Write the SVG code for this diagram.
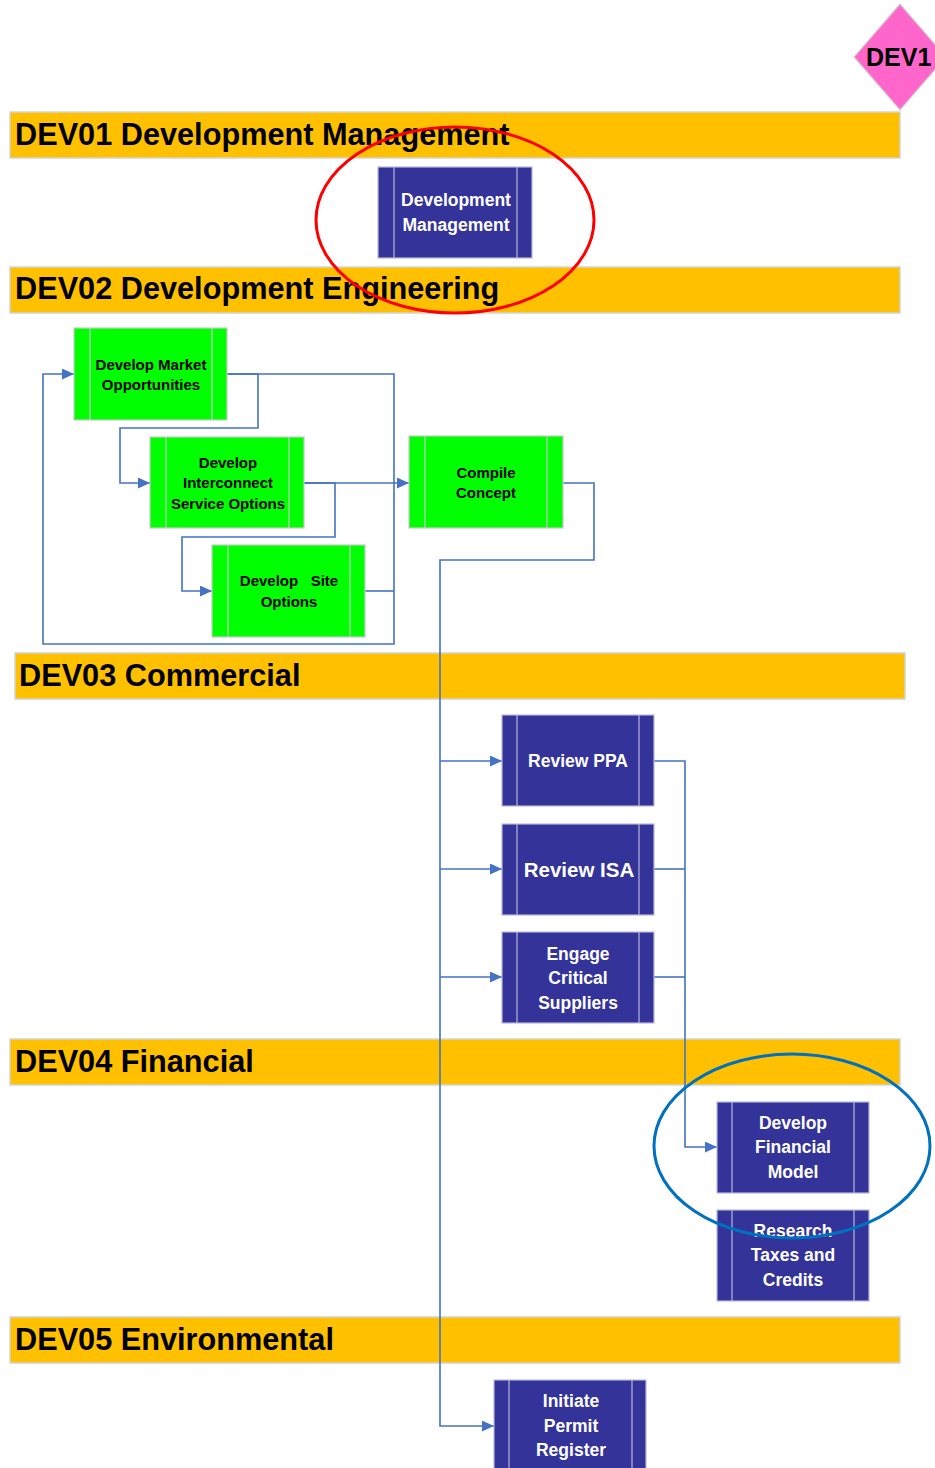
<svg xmlns="http://www.w3.org/2000/svg" width="935" height="1468" viewBox="0 0 935 1468">
<defs>
<style>
.lane{fill:#ffc000;stroke:#d4d4d4;stroke-width:1.5}
.lt{font-family:"Liberation Sans",Arial,sans-serif;font-weight:bold;font-size:30.7px;fill:#000}
.bn{fill:#333399;stroke:#b8b8d8;stroke-width:1.2}
.gn{fill:#00ff00;stroke:#c8c8c8;stroke-width:1.2}
.bl{stroke:#b8b8d8;stroke-width:1.2}
.gl{stroke:#c8c8c8;stroke-width:1.2}
.wt{font-family:"Liberation Sans",Arial,sans-serif;font-weight:bold;font-size:17.5px;fill:#fff;text-anchor:middle}
.bt{font-family:"Liberation Sans",Arial,sans-serif;font-weight:bold;font-size:15px;fill:#000;text-anchor:middle}
.c{fill:none;stroke:#4472c4;stroke-width:1.6}
</style>
<marker id="ah2" viewBox="0 0 10 10" refX="10" refY="5" markerWidth="12" markerHeight="11" markerUnits="userSpaceOnUse" orient="auto" preserveAspectRatio="none">
<path d="M0,0 L10,5 L0,10 z" fill="#4472c4"/>
</marker>
</defs>
<rect width="935" height="1468" fill="#fff"/>

<g id="badge">
<polygon points="900,4 946,57 900,110 854,57" fill="#ff66cc" stroke="#d0d0d0" stroke-width="1.2"/>
<text x="866" y="66" font-family="Liberation Sans,Arial,sans-serif" font-weight="bold" font-size="25" fill="#000">DEV1</text>
</g>

<g id="lanes">
<g id="lane-dev01"><rect class="lane" x="10" y="112" width="890" height="46"/><text class="lt" x="15" y="145">DEV01 Development Management</text></g>
<g id="lane-dev02"><rect class="lane" x="10" y="267" width="890" height="46"/><text class="lt" x="15" y="299">DEV02 Development Engineering</text></g>
<g id="lane-dev03"><rect class="lane" x="15" y="653" width="890" height="46"/><text class="lt" x="19" y="686">DEV03 Commercial</text></g>
<g id="lane-dev04"><rect class="lane" x="10" y="1039" width="890" height="46"/><text class="lt" x="15" y="1072">DEV04 Financial</text></g>
<g id="lane-dev05"><rect class="lane" x="10" y="1317" width="890" height="46"/><text class="lt" x="15" y="1350">DEV05 Environmental</text></g>
</g>

<g id="connectors">
<polyline class="c" points="227,374 258,374 258,428 120,428 120,483 150,483" marker-end="url(#ah2)"/>
<polyline class="c" points="227,374 394,374 394,644 43,644 43,374 74,374" marker-end="url(#ah2)"/>
<polyline class="c" points="365,591 394,591"/>
<polyline class="c" points="304,483 409,483" marker-end="url(#ah2)"/>
<polyline class="c" points="304,483 335,483 335,537 182,537 182,591 212,591" marker-end="url(#ah2)"/>
<polyline class="c" points="563,483 594,483 594,560 440,560 440,1426 494,1426" marker-end="url(#ah2)"/>
<polyline class="c" points="440,761 502,761" marker-end="url(#ah2)"/>
<polyline class="c" points="440,869 502,869" marker-end="url(#ah2)"/>
<polyline class="c" points="440,977 502,977" marker-end="url(#ah2)"/>
<polyline class="c" points="654,761 685,761 685,1147 717,1147" marker-end="url(#ah2)"/>
<polyline class="c" points="654,869 685,869"/>
<polyline class="c" points="654,977 685,977"/>
</g>

<g id="n-devmgmt">
<rect class="bn" x="378" y="167" width="154" height="91"/>
<line class="bl" x1="394" y1="167" x2="394" y2="258"/><line class="bl" x1="517" y1="167" x2="517" y2="258"/>
<text class="wt" x="456" y="206">Development</text><text class="wt" x="456" y="231">Management</text>
</g>

<g id="n-market">
<rect class="gn" x="74" y="328" width="153" height="92"/>
<line class="gl" x1="90" y1="328" x2="90" y2="420"/><line class="gl" x1="212" y1="328" x2="212" y2="420"/>
<text class="bt" x="151" y="370">Develop Market</text><text class="bt" x="151" y="390">Opportunities</text>
</g>

<g id="n-interconnect">
<rect class="gn" x="150" y="437" width="154" height="91"/>
<line class="gl" x1="166" y1="437" x2="166" y2="528"/><line class="gl" x1="289" y1="437" x2="289" y2="528"/>
<text class="bt" x="228" y="468">Develop</text><text class="bt" x="228" y="488">Interconnect</text><text class="bt" x="228" y="509">Service Options</text>
</g>

<g id="n-site">
<rect class="gn" x="212" y="545" width="153" height="92"/>
<line class="gl" x1="228" y1="545" x2="228" y2="637"/><line class="gl" x1="350" y1="545" x2="350" y2="637"/>
<text class="bt" x="289" y="586" xml:space="preserve">Develop   Site</text><text class="bt" x="289" y="607">Options</text>
</g>

<g id="n-compile">
<rect class="gn" x="409" y="436" width="154" height="92"/>
<line class="gl" x1="425" y1="436" x2="425" y2="528"/><line class="gl" x1="547" y1="436" x2="547" y2="528"/>
<text class="bt" x="486" y="478">Compile</text><text class="bt" x="486" y="498">Concept</text>
</g>

<g id="n-ppa">
<rect class="bn" x="502" y="715" width="152" height="91"/>
<line class="bl" x1="517" y1="715" x2="517" y2="806"/><line class="bl" x1="639" y1="715" x2="639" y2="806"/>
<text class="wt" x="578" y="767">Review PPA</text>
</g>

<g id="n-isa">
<rect class="bn" x="502" y="824" width="152" height="91"/>
<line class="bl" x1="517" y1="824" x2="517" y2="915"/><line class="bl" x1="639" y1="824" x2="639" y2="915"/>
<text class="wt" x="579" y="877" style="font-size:20.5px">Review ISA</text>
</g>

<g id="n-engage">
<rect class="bn" x="502" y="932" width="152" height="91"/>
<line class="bl" x1="517" y1="932" x2="517" y2="1023"/><line class="bl" x1="639" y1="932" x2="639" y2="1023"/>
<text class="wt" x="578" y="960">Engage</text><text class="wt" x="578" y="984">Critical</text><text class="wt" x="578" y="1009">Suppliers</text>
</g>

<g id="n-finmodel">
<rect class="bn" x="717" y="1102" width="152" height="91"/>
<line class="bl" x1="732" y1="1102" x2="732" y2="1193"/><line class="bl" x1="854" y1="1102" x2="854" y2="1193"/>
<text class="wt" x="793" y="1129">Develop</text><text class="wt" x="793" y="1153">Financial</text><text class="wt" x="793" y="1178">Model</text>
</g>

<g id="n-taxes">
<rect class="bn" x="717" y="1210" width="152" height="91"/>
<line class="bl" x1="732" y1="1210" x2="732" y2="1301"/><line class="bl" x1="854" y1="1210" x2="854" y2="1301"/>
<text class="wt" x="793" y="1237">Research</text><text class="wt" x="793" y="1261">Taxes and</text><text class="wt" x="793" y="1286">Credits</text>
</g>

<g id="n-permit">
<rect class="bn" x="494" y="1380" width="152" height="92"/>
<line class="bl" x1="509" y1="1380" x2="509" y2="1472"/><line class="bl" x1="632" y1="1380" x2="632" y2="1472"/>
<text class="wt" x="571" y="1407">Initiate</text><text class="wt" x="571" y="1432">Permit</text><text class="wt" x="571" y="1456">Register</text>
</g>

<g id="highlights">
<ellipse cx="455" cy="220" rx="139" ry="93" fill="none" stroke="#ff0000" stroke-width="3"/>
<ellipse cx="792" cy="1146" rx="138" ry="92" fill="none" stroke="#0070c0" stroke-width="3"/>
</g>
</svg>
